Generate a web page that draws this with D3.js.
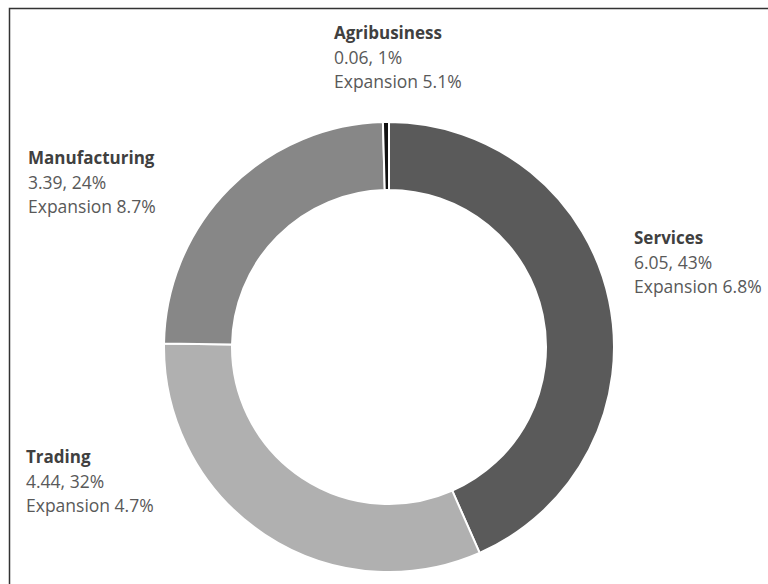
<!DOCTYPE html>
<html><head><meta charset="utf-8">
<script src="https://cdn.jsdelivr.net/npm/d3@7"></script>
<style>body{margin:0;background:#fff}svg{display:block}</style>
</head><body>
<svg id="c" width="768" height="584"></svg>
<script>
const categories = ["Services", "Trading", "Manufacturing", "Agribusiness"];
const values = [6.05, 4.44, 3.39, 0.06];
const percents = ["43%", "32%", "24%", "1%"];
const expansion = ["6.8%", "4.7%", "8.7%", "5.1%"];
const colors = ["#5a5a5a", "#b0b0b0", "#878787", "#111111"];
const labelPos = [[634, 238], [26, 457], [28, 158], [334, 33]];

const svg = d3.select("#c");
svg.append("path").attr("d", "M9.5,600V8.5H800").attr("fill", "none").attr("stroke", "#333").attr("stroke-width", 1.5);

const cx = 389, cy = 347, R = 225, r = 157;
const pie = d3.pie().sort(null).value(d => d)(values);
const arc = d3.arc().innerRadius(r).outerRadius(R);
const g = svg.append("g").attr("transform", `translate(${cx},${cy})`);
g.selectAll("path").data(pie).join("path")
  .attr("d", arc).attr("fill", (d, i) => colors[i])
  .attr("stroke", "#fff").attr("stroke-width", 2);

const font = "'Open Sans', 'Noto Sans', sans-serif";
categories.forEach((c, i) => {
  const [x, y] = labelPos[i];
  const t = svg.append("g").attr("font-family", font).attr("font-size", 17.5);
  t.append("text").attr("x", x).attr("y", y).attr("dy", "0.35em").attr("font-weight", "bold").attr("font-size", 17).attr("fill", "#404040").text(c);
  t.append("text").attr("x", x).attr("y", y + 24.5).attr("dy", "0.35em").attr("fill", "#595959").text(`${values[i].toFixed(2)}, ${percents[i]}`);
  t.append("text").attr("x", x).attr("y", y + 49).attr("dy", "0.35em").attr("fill", "#595959").text(`Expansion ${expansion[i]}`);
});
</script>
</body></html>
